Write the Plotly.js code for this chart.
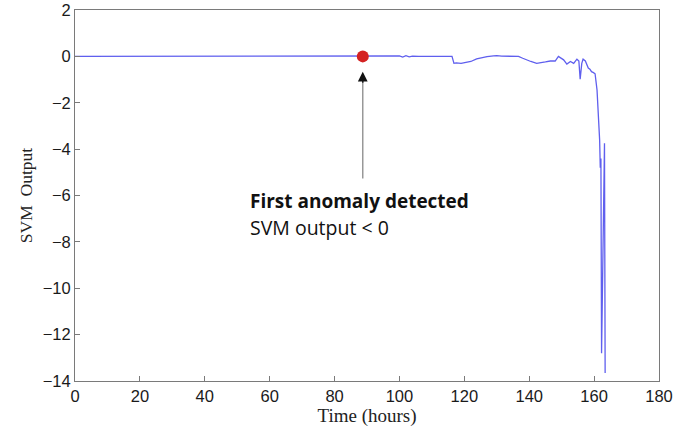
<!DOCTYPE html>
<html>
<head>
<meta charset="utf-8">
<script src="https://cdn.plot.ly/plotly-3.0.1.min.js"></script>
<style>html,body{margin:0;padding:0;background:#fff;} #chart{width:692px;height:430px;}</style>
</head>
<body>
<div id="chart"></div>
<script>
// Time (hours)
const timeHours = [0, 10, 20, 30, 40, 50, 60, 70, 80, 88.7, 92, 95, 98, 100, 101, 102, 103, 104, 106, 110, 114,
  116.2, 116.8, 117.5, 119, 120.5, 122, 123.8, 125.5, 127, 129, 130, 131.5, 134, 136.7, 138, 139.2, 140.5,
  142.3, 143.5, 145, 146.5, 148, 149, 150, 150.6, 151.6, 152.7, 153.7, 154.7, 155.3, 155.7, 156.2, 156.6,
  157.3, 158.2, 158.7, 159.2, 159.8, 160.3, 160.9, 161.2, 161.5, 161.7, 161.9, 162.1, 162.3, 163.2, 163.4];
// SVM output
const svmOutput = [0, 0, 0, 0, 0, 0, 0, 0, 0, 0, 0, -0.01, 0, 0.02, -0.03, 0.03, -0.02, 0.01, 0, 0, 0,
  0, -0.3, -0.28, -0.3, -0.25, -0.22, -0.11, -0.05, -0.01, 0.02, 0.03, 0.01, 0, 0, -0.08, -0.16, -0.22,
  -0.3, -0.26, -0.24, -0.2, -0.2, 0, -0.1, -0.15, -0.33, -0.22, -0.3, -0.12, -0.2, -0.98, -0.3, -0.12,
  -0.2, -0.5, -0.55, -0.66, -0.7, -0.75, -1.45, -2.1, -2.7, -3.6, -4.8, -4.4, -12.8, -3.75, -13.65];
// First anomaly point
const anomalyTime = [88.7];
const anomalyValue = [0];
const xTicks = [0, 20, 40, 60, 80, 100, 120, 140, 160, 180];
const yTicks = [2, 0, -2, -4, -6, -8, -10, -12, -14];
const annoLine1 = "First anomaly detected";
const annoLine2 = "SVM output &lt; 0";

const traces = [
  {x: timeHours, y: svmOutput, type: 'scatter', mode: 'lines',
   line: {color: 'rgb(95,95,238)', width: 1.3}, hoverinfo: 'skip'},
  {x: anomalyTime, y: anomalyValue, type: 'scatter', mode: 'markers',
   marker: {color: '#d42222', size: 12}, hoverinfo: 'skip'}
];

const axisCommon = {
  showgrid: false, zeroline: false, showline: true, mirror: true,
  linecolor: '#7a7a7a', linewidth: 1, ticks: 'inside', ticklen: 5, tickcolor: '#7a7a7a',
  tickfont: {family: 'Liberation Sans, Arial, sans-serif', size: 16.5, color: '#1a1a1a'}
};

const layout = {
  width: 692, height: 430,
  margin: {l: 75, r: 33, t: 10, b: 49},
  paper_bgcolor: '#fff', plot_bgcolor: '#fff',
  showlegend: false,
  xaxis: Object.assign({}, axisCommon, {
    range: [0, 180], tickvals: xTicks, ticktext: xTicks.map(String),
    title: {text: 'Time (hours)', font: {family: 'Liberation Serif, Times New Roman, serif', size: 19, color: '#222'}, standoff: 3}
  }),
  yaxis: Object.assign({}, axisCommon, {
    range: [-14, 2], tickvals: yTicks, ticktext: yTicks.map(v => v < 0 ? '\u2212' + Math.abs(v) : String(v)),
    title: {text: 'SVM  Output', font: {family: 'Liberation Serif, Times New Roman, serif', size: 17.5, color: '#222'}, standoff: 5}
  }),
  annotations: [
    {x: 88.7, y: -0.75, ax: 88.7, ay: -5.33, xref: 'x', yref: 'y', axref: 'x', ayref: 'y',
     showarrow: true, arrowhead: 0, arrowwidth: 1.3, arrowcolor: '#8a8a8a', text: ''},
    {x: 88.7, y: -0.66, ax: 88.7, ay: -1.2, xref: 'x', yref: 'y', axref: 'x', ayref: 'y',
     showarrow: true, arrowhead: 2, arrowsize: 1.5, arrowwidth: 1.3, arrowcolor: '#111', text: ''},
    {x: 53.3, y: -6.24, xref: 'x', yref: 'y', xanchor: 'left', yanchor: 'middle', showarrow: false,
     text: '<b>' + annoLine1 + '</b>', font: {family: 'Open Sans, Noto Sans, sans-serif', size: 19, color: '#111'}},
    {x: 53.3, y: -7.4, xref: 'x', yref: 'y', xanchor: 'left', yanchor: 'middle', showarrow: false,
     text: annoLine2, font: {family: 'Open Sans, Noto Sans, sans-serif', size: 19.5, color: '#111'}}
  ]
};

Plotly.newPlot('chart', traces, layout, {staticPlot: true, displayModeBar: false});
</script>
</body>
</html>
